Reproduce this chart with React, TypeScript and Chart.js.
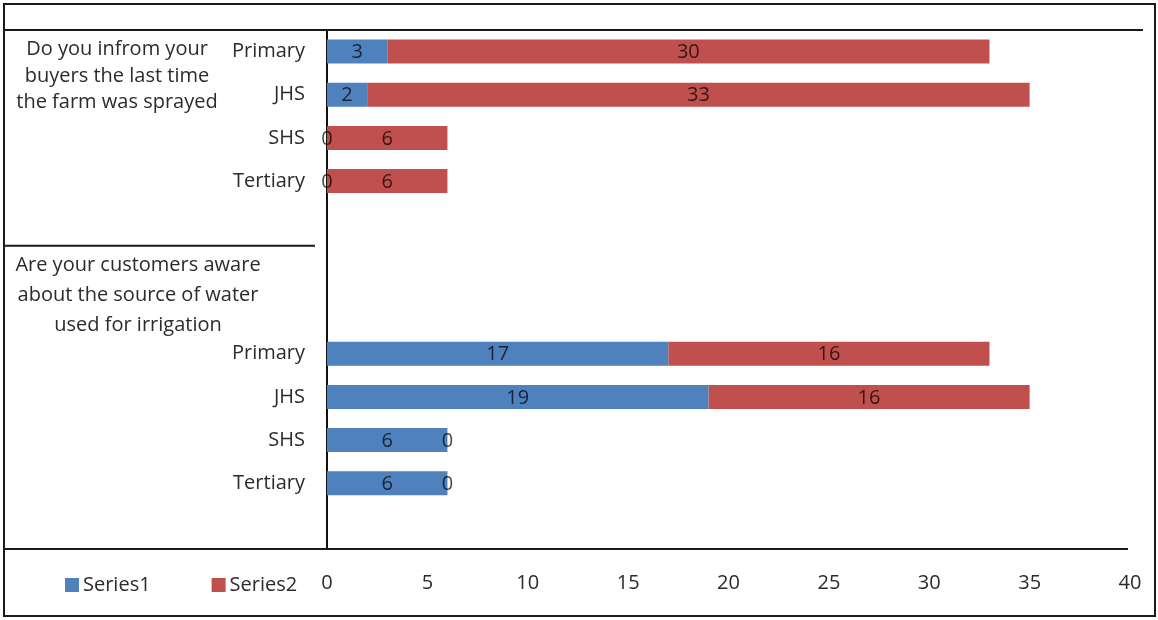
import React, { useEffect, useRef } from "react";
import { Chart, registerables } from "chart.js";

Chart.register(...registerables);

// Category rows, top to bottom (empty strings are spacer rows of the two groups)
const categories = ["Primary", "JHS", "SHS", "Tertiary", "", "", "", "Primary", "JHS", "SHS", "Tertiary", ""];
const series1: (number | null)[] = [3, 2, 0, 0, null, null, null, 17, 19, 6, 6, null];
const series2: (number | null)[] = [30, 33, 6, 6, null, null, null, 16, 16, 0, 0, null];
const seriesNames = ["Series1", "Series2"];

// Outer category level: question text and the first row of each group
const groupTitles = [
  ["Do you infrom your", "buyers the last time", "the farm was sprayed"],
  ["Are your customers aware", "about the source of water", "used for irrigation"],
];
const groupStartRows = [0, 5];

const xMin = 0;
const xMax = 40;
const xStep = 5;

const FONT_FAMILY = '"Open Sans", "DejaVu Sans", sans-serif';
const TEXT_COLOR = "#2b2b2b";
const BLUE = "#4F81BD";
const RED = "#C0504D";

// Per-group layout of the wrapped question text
const titleCenterX = [117, 138];
const titleLineHeight = [26.5, 30];

const decorPlugin = {
  id: "decor",
  afterDraw(chart: any) {
    const { ctx, chartArea, scales } = chart;
    const yScale = scales.y;
    const rowH = yScale.getPixelForValue(1) - yScale.getPixelForValue(0);
    const W = chart.width;
    const H = chart.height;

    const line = (x1: number, y1: number, x2: number, y2: number) => {
      ctx.beginPath();
      ctx.moveTo(x1, y1);
      ctx.lineTo(x2, y2);
      ctx.stroke();
    };

    ctx.save();
    ctx.strokeStyle = "#1a1a1a";
    ctx.lineWidth = 2;

    // outer frame
    ctx.strokeRect(4, 4, W - 7, H - 8);

    // top rule of the plot area
    line(4, chartArea.top, chartArea.right + 13, chartArea.top);

    // baseline, running under the label column as well
    line(4, chartArea.bottom + 1, chartArea.right - 2, chartArea.bottom + 1);

    // divider between the two question groups
    const divY = yScale.getPixelForValue(groupStartRows[1]) - rowH / 2;
    line(4, divY, chartArea.left - 12, divY);

    // question texts
    ctx.fillStyle = TEXT_COLOR;
    ctx.font = `20px ${FONT_FAMILY}`;
    ctx.textAlign = "center";
    ctx.textBaseline = "middle";
    groupTitles.forEach((lines, g) => {
      const y0 = yScale.getPixelForValue(groupStartRows[g]) - 2;
      lines.forEach((txt, i) => {
        ctx.fillText(txt, titleCenterX[g], y0 + i * titleLineHeight[g]);
      });
    });

    // legend, bottom left beside the value axis labels
    const legendY = chartArea.bottom + 37;
    let lx = 65;
    ctx.textAlign = "left";
    chart.data.datasets.forEach((ds: any) => {
      ctx.fillStyle = ds.backgroundColor;
      ctx.fillRect(lx, legendY - 7, 14, 14);
      ctx.fillStyle = TEXT_COLOR;
      ctx.fillText(ds.label, lx + 18, legendY);
      lx += 18 + ctx.measureText(ds.label).width + 61;
    });

    ctx.restore();
  },
};

const valueLabelPlugin = {
  id: "valueLabels",
  afterDatasetsDraw(chart: any) {
    const { ctx } = chart;
    ctx.save();
    ctx.font = `20px ${FONT_FAMILY}`;
    ctx.fillStyle = "rgba(0,0,0,0.72)";
    ctx.textAlign = "center";
    ctx.textBaseline = "middle";
    chart.data.datasets.forEach((ds: any, di: number) => {
      const meta = chart.getDatasetMeta(di);
      meta.data.forEach((el: any, i: number) => {
        const v = ds.data[i];
        if (v === null || v === undefined) return;
        const p = el.getCenterPoint();
        ctx.fillText(String(v), p.x, p.y + 1);
      });
    });
    ctx.restore();
  },
};

export default function App() {
  const canvasRef = useRef<HTMLCanvasElement | null>(null);

  useEffect(() => {
    if (!canvasRef.current) return;
    const chart = new Chart(canvasRef.current, {
      type: "bar",
      data: {
        labels: categories,
        datasets: [
          {
            label: seriesNames[0],
            data: series1,
            backgroundColor: BLUE,
            barPercentage: 0.555,
            categoryPercentage: 1,
          },
          {
            label: seriesNames[1],
            data: series2,
            backgroundColor: RED,
            barPercentage: 0.555,
            categoryPercentage: 1,
          },
        ],
      },
      options: {
        indexAxis: "y",
        responsive: false,
        animation: false,
        layout: { padding: { top: 30, right: 28, left: 0, bottom: 0 } },
        plugins: {
          legend: { display: false },
          tooltip: { enabled: false },
        },
        scales: {
          x: {
            stacked: true,
            min: xMin,
            max: xMax,
            ticks: {
              stepSize: xStep,
              padding: 23,
              color: TEXT_COLOR,
              font: { family: FONT_FAMILY, size: 20 },
              maxRotation: 0,
            },
            grid: { display: false, drawTicks: false },
            border: { display: false },
            afterFit: (scale: any) => {
              scale.height = 72;
              scale.paddingLeft = 0;
              scale.paddingRight = 0;
            },
          },
          y: {
            stacked: true,
            ticks: {
              padding: 22,
              color: TEXT_COLOR,
              autoSkip: false,
              font: { family: FONT_FAMILY, size: 20 },
            },
            grid: { display: false, drawTicks: false },
            border: { display: true, color: "#111", width: 2 },
            afterFit: (scale: any) => {
              scale.width = 327;
              scale.paddingTop = 0;
              scale.paddingBottom = 0;
            },
          },
        },
      },
      plugins: [valueLabelPlugin, decorPlugin],
    });
    return () => chart.destroy();
  }, []);

  return (
    <div style={{ position: "fixed", left: 0, top: 0, width: 1158, height: 620, background: "#fff" }}>
      <canvas ref={canvasRef} width={1158} height={620} style={{ width: 1158, height: 620, display: "block" }} />
    </div>
  );
}
